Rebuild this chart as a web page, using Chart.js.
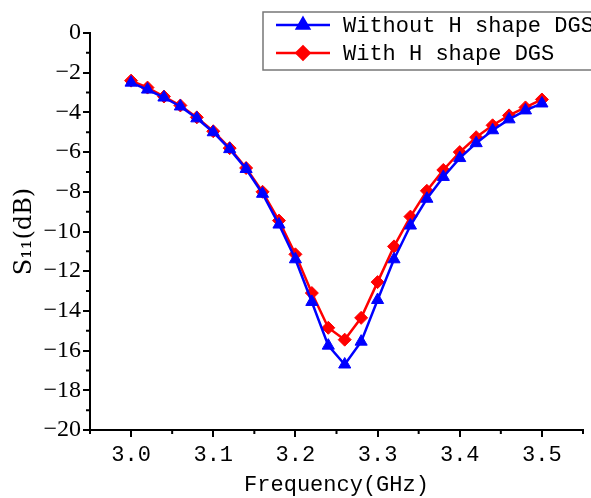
<!DOCTYPE html>
<html lang="en">
    <head>
        <script src="https://cdn.jsdelivr.net/npm/chart.js@4"></script>
        <style>
            body { margin: 0; background: #fff; }
        </style>
    </head>
    <body>
        <canvas id="myChart" width="591" height="498"></canvas>
        <script>
            const freqs = [3.00, 3.02, 3.04, 3.06, 3.08, 3.10, 3.12, 3.14, 3.16, 3.18, 3.20, 3.22, 3.24,
                3.26, 3.28, 3.30, 3.32, 3.34, 3.36, 3.38, 3.40, 3.42, 3.44, 3.46, 3.48, 3.50]
            const withoutDGS = [-2.5, -2.85, -3.25, -3.7, -4.3, -5.0, -5.85, -6.85, -8.1, -9.65, -11.4, -13.55, -15.75,
                -16.7, -15.55, -13.45, -11.4, -9.7, -8.35, -7.25, -6.3, -5.55, -4.9, -4.35, -3.9, -3.55]
            const withDGS = [-2.4, -2.75, -3.2, -3.65, -4.25, -4.95, -5.8, -6.8, -8.0, -9.45, -11.15, -13.1, -14.85,
                -15.45, -14.35, -12.55, -10.75, -9.25, -7.95, -6.9, -6.0, -5.25, -4.65, -4.15, -3.75, -3.35]
            const xTicks = [3.0, 3.1, 3.2, 3.3, 3.4, 3.5]
            const yTicks = [0, -2, -4, -6, -8, -10, -12, -14, -16, -18, -20]

            const toPoints = (ys) => freqs.map((f, i) => ({ x: f, y: ys[i] }))

            // minor ticks + legend box drawn on top
            const extras = {
                id: "extras",
                afterDraw(chart) {
                    const ctx = chart.ctx
                    const xs = chart.scales.x
                    const ys = chart.scales.y
                    ctx.save()
                    ctx.strokeStyle = "#000"
                    ctx.lineWidth = 2
                    ctx.beginPath()
                    for (let v = 2.95; v < 3.56; v += 0.1) {
                        const px = xs.getPixelForValue(v)
                        ctx.moveTo(px, ys.bottom)
                        ctx.lineTo(px, ys.bottom + 4)
                    }
                    for (let v = -1; v > -20; v -= 2) {
                        const py = ys.getPixelForValue(v)
                        ctx.moveTo(xs.left, py)
                        ctx.lineTo(xs.left - 4, py)
                    }
                    ctx.stroke()

                    // legend
                    ctx.fillStyle = "#fff"
                    ctx.fillRect(263, 12, 340, 58)
                    ctx.strokeStyle = "#777"
                    ctx.lineWidth = 1.5
                    ctx.strokeRect(263, 12, 340, 58)
                    chart.data.datasets.forEach((ds, i) => {
                        const y = 25 + i * 28
                        ctx.strokeStyle = ds.borderColor
                        ctx.lineWidth = 2.5
                        ctx.beginPath()
                        ctx.moveTo(276, y)
                        ctx.lineTo(330, y)
                        ctx.stroke()
                        ctx.fillStyle = ds.borderColor
                        Chart.helpers.drawPoint(ctx, {
                            pointStyle: ds.pointStyle,
                            radius: ds.pointRadius,
                            rotation: 0,
                            borderWidth: 1,
                        }, 303, y)
                        ctx.fillStyle = "#000"
                        ctx.font = "22px 'Liberation Mono'"
                        ctx.textBaseline = "middle"
                        ctx.textAlign = "left"
                        ctx.fillText(ds.label, 343, y + 1)
                    })
                    ctx.restore()
                },
            }

            const ctx = document.getElementById("myChart")
            new Chart(ctx, {
                type: "line",
                data: {
                    datasets: [
                        {
                            label: "Without H shape DGS",
                            data: toPoints(withoutDGS),
                            borderColor: "#0000ff",
                            backgroundColor: "#0000ff",
                            borderWidth: 2.5,
                            pointStyle: "triangle",
                            pointRadius: 7,
                            pointBorderWidth: 1,
                        },
                        {
                            label: "With H shape DGS",
                            data: toPoints(withDGS),
                            borderColor: "#ff0000",
                            backgroundColor: "#ff0000",
                            borderWidth: 2.5,
                            pointStyle: "rectRot",
                            pointRadius: 6.5,
                            pointBorderWidth: 1,
                        },
                    ],
                },
                options: {
                    animation: false,
                    responsive: false,
                    layout: { padding: { top: 33, right: 8, left: 0, bottom: 0 } },
                    plugins: {
                        legend: { display: false },
                        tooltip: { enabled: false },
                    },
                    scales: {
                        x: {
                            type: "linear",
                            min: 2.95,
                            max: 3.55,
                            afterBuildTicks: (scale) => {
                                scale.ticks = xTicks.map((v) => ({ value: v }))
                            },
                            afterFit: (scale) => {
                                scale.height = 68
                            },
                            border: { color: "#000", width: 2 },
                            grid: { drawOnChartArea: false, color: "#000", tickLength: 7, lineWidth: 2 },
                            ticks: {
                                color: "#000",
                                padding: 5,
                                font: { family: "'Liberation Mono'", size: 22 },
                                callback: (v) => v.toFixed(1),
                            },
                            title: {
                                display: true,
                                text: "Frequency(GHz)",
                                color: "#000",
                                font: { family: "'Liberation Mono'", size: 22 },
                                padding: { top: 0, bottom: 0 },
                            },
                        },
                        y: {
                            min: -20,
                            max: 0,
                            afterBuildTicks: (scale) => {
                                scale.ticks = yTicks.map((v) => ({ value: v }))
                            },
                            afterFit: (scale) => {
                                scale.width = 90
                            },
                            border: { color: "#000", width: 2 },
                            grid: { drawOnChartArea: false, color: "#000", tickLength: 7, lineWidth: 2 },
                            ticks: {
                                color: "#000",
                                padding: 2,
                                font: { family: "'Liberation Serif'", size: 24 },
                                callback: (v) => (v < 0 ? "\u2212" + Math.abs(v) : String(v)),
                            },
                            title: {
                                display: true,
                                text: "S\u2081\u2081(dB)",
                                color: "#000",
                                font: { family: "'DejaVu Serif'", size: 24 },
                                padding: { top: 10, bottom: 0 },
                            },
                        },
                    },
                },
                plugins: [extras],
            })
        </script>
    </body>
</html>
